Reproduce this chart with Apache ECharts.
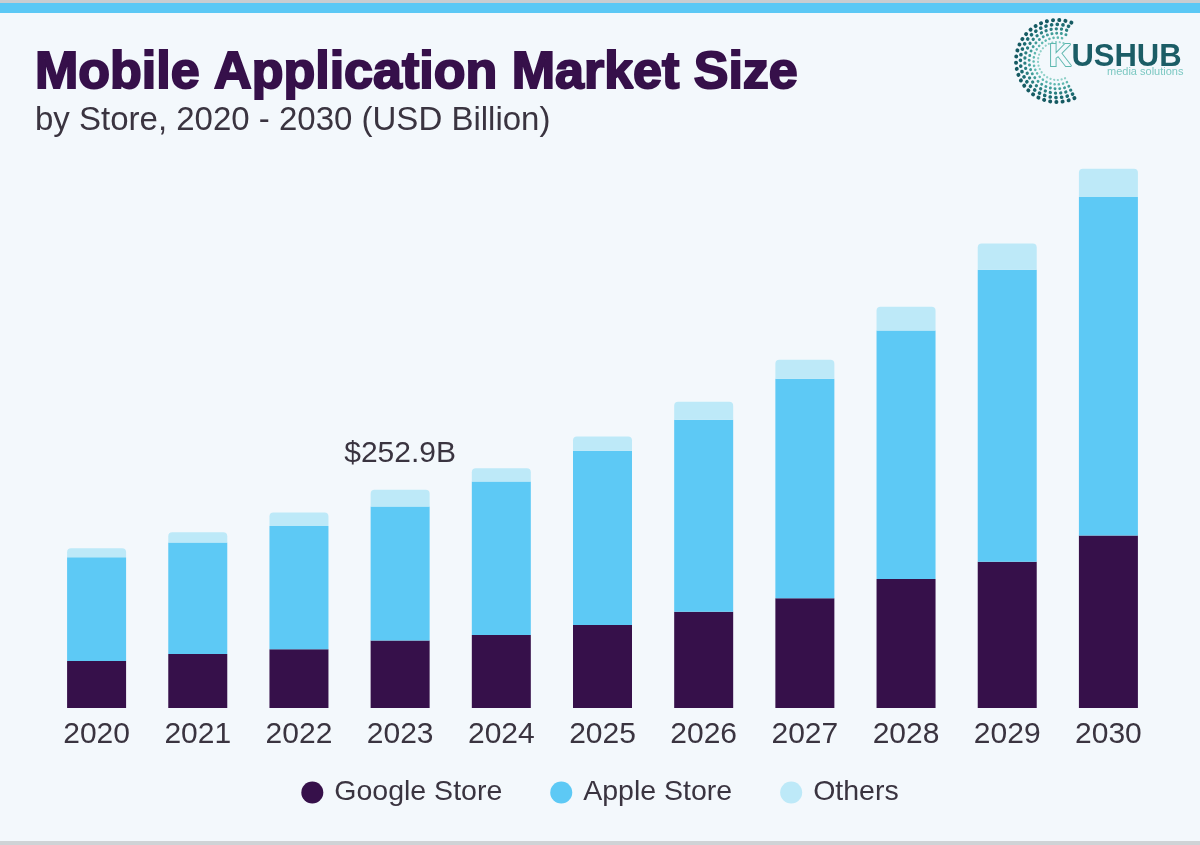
<!DOCTYPE html>
<html>
<head>
<meta charset="utf-8">
<script src="https://cdn.jsdelivr.net/npm/echarts@6/dist/echarts.min.js"></script>
<style>
  html, body { margin: 0; padding: 0; background: #f3f8fc; }
  #chart { width: 1200px; height: 845px; }
</style>
</head>
<body>
<div id="chart"></div>
<script>
const years = ['2020','2021','2022','2023','2024','2025','2026','2027','2028','2029','2030'];
const googleStore = [54.5, 62.6, 68.1, 78.1, 84.7, 96.3, 111.7, 127.3, 149.6, 169.4, 200.1];
const appleStore = [120.3, 129.1, 143.0, 155.5, 177.8, 201.8, 222.4, 254.4, 288.0, 338.7, 392.3];
const others = [10.4, 12.1, 15.4, 19.3, 15.5, 16.6, 20.9, 22.0, 27.5, 30.4, 32.8];
const annotationIndex = 3;
const annotationText = '$252.9B';

const FONT = 'Liberation Sans';
const TEXT = '#3a3440';

const othersData = others.map((v, i) => i === annotationIndex
  ? { value: v, label: { show: true, position: 'top', distance: 21, formatter: annotationText,
      fontSize: 30, color: TEXT, fontFamily: FONT } }
  : v);

// decorative dotted arcs for logo
const logoArcs = [];
const arcCols = ['#8fd0c8', '#5fb8b0', '#3f9c98', '#2a7f80', '#1b6a70', '#155a62'];
for (let k = 0; k < 6; k++) {
  logoArcs.push({
    type: 'arc',
    shape: { cx: 1057, cy: 61, r: 19 + k * 4.4, startAngle: Math.PI * 0.36, endAngle: Math.PI * 1.62 },
    style: { stroke: arcCols[k], lineWidth: 2.2 + k * 0.35, lineDash: [0.1, 3.6 + k * 0.5], lineCap: 'round', fill: null },
    silent: true
  });
}

const chart = echarts.init(document.getElementById('chart'));
chart.setOption({
  backgroundColor: '#f3f8fc',
  animation: false,
  title: [
    { text: 'Mobile Application Market Size', left: 35, top: 48, padding: 0,
      textStyle: { fontFamily: FONT, fontSize: 52, fontWeight: 'bold', color: '#36104a',
        textBorderColor: '#36104a', textBorderWidth: 2 } },
    { text: 'by Store, 2020 - 2030 (USD Billion)', left: 35, top: 104, padding: 0,
      textStyle: { fontFamily: FONT, fontSize: 33, fontWeight: 'normal', color: TEXT } }
  ],
  graphic: [
    { type: 'rect', shape: { x: 0, y: 0, width: 1200, height: 3 }, style: { fill: '#c9cdd1' }, silent: true },
    { type: 'rect', shape: { x: 0, y: 3, width: 1200, height: 10 }, style: { fill: '#5bc8f5' }, silent: true },
    { type: 'rect', shape: { x: 0, y: 841, width: 1200, height: 4 }, style: { fill: '#cfd3d6' }, silent: true },
    ...logoArcs,
    { type: 'text', left: 1048, top: 41, silent: true,
      style: { text: '{k|K}{r|USHUB}', rich: {
        k: { fontFamily: FONT, fontSize: 31, fontWeight: 'bold', fill: '#f3f8fc', stroke: '#5fb8b0', lineWidth: 2 },
        r: { fontFamily: FONT, fontSize: 31, fontWeight: 'bold', fill: '#1b5d66' } } } },
    { type: 'text', left: 1107, top: 66, silent: true,
      style: { text: 'media solutions', fontFamily: FONT, fontSize: 11, fill: '#7cc8c2' } }
  ],
  legend: {
    bottom: 33, left: 'center',
    icon: 'circle', itemWidth: 22, itemHeight: 22, itemGap: 48,
    textStyle: { fontFamily: FONT, fontSize: 28.5, color: TEXT, padding: [0, 0, 0, 6] },
    data: ['Google Store', 'Apple Store', 'Others']
  },
  grid: { left: 46, right: 41, top: 130, bottom: 137, containLabel: false },
  xAxis: {
    type: 'category', data: years,
    axisLine: { show: false }, axisTick: { show: false },
    axisLabel: { fontFamily: FONT, fontSize: 30, color: TEXT, margin: 12 }
  },
  yAxis: {
    type: 'value', min: 0, max: 670, show: false, splitLine: { show: false }
  },
  series: [
    { name: 'Google Store', type: 'bar', stack: 'total', barWidth: 59, data: googleStore,
      itemStyle: { color: '#36104a' } },
    { name: 'Apple Store', type: 'bar', stack: 'total', barWidth: 59, data: appleStore,
      itemStyle: { color: '#5dc9f5' } },
    { name: 'Others', type: 'bar', stack: 'total', barWidth: 59, data: othersData,
      itemStyle: { color: '#bde9f8', borderRadius: [4, 4, 0, 0] } }
  ]
});
</script>
</body>
</html>
